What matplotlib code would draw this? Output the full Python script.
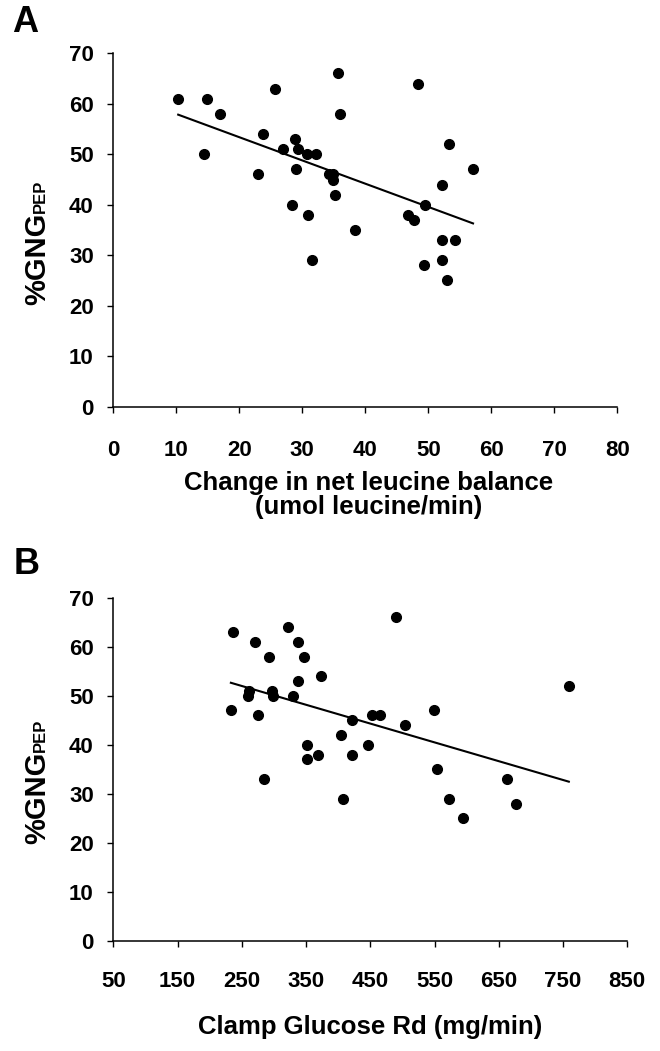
import numpy as np
import matplotlib
matplotlib.use('Agg')
import matplotlib.pyplot as plt

plt.rcParams['font.family'] = ['Liberation Sans', 'DejaVu Sans']
plt.rcParams['font.weight'] = 'bold'

# Panel A: change in net leucine balance vs %GNG(PEP)
leucine = [10.3, 14.8, 17.0, 14.4, 25.6, 23.8, 22.9, 28.8, 27.0, 29.3, 30.8, 32.1,
           29.0, 34.3, 34.9, 34.8, 35.2, 28.3, 30.9, 38.3, 31.6, 35.7, 36.0,
           48.3, 53.3, 57.1, 52.2, 49.4, 46.7, 47.7, 52.1, 54.2, 49.3, 52.2, 53.0]
gng_a = [61, 61, 58, 50, 63, 54, 46, 53, 51, 51, 50, 50,
         47, 46, 46, 45, 42, 40, 38, 35, 29, 66, 58,
         64, 52, 47, 44, 40, 38, 37, 33, 33, 28, 29, 25]

# Panel B: clamp glucose Rd vs %GNG(PEP)
glucose_rd = [237, 270, 292, 322, 338, 347, 373, 338, 261, 259, 297, 299, 329,
              233, 275, 284, 351, 352, 369, 405, 422, 422, 408, 447, 452, 465,
              490, 504, 549, 554, 572, 595, 662, 677, 759]
gng_b = [63, 61, 58, 64, 61, 58, 54, 53, 51, 50, 51, 50, 50,
         47, 46, 33, 40, 37, 38, 42, 45, 38, 29, 40, 46, 46,
         66, 44, 47, 35, 29, 25, 33, 28, 52]

xticks_a = np.arange(0, 81, 10)
xticks_b = np.arange(50, 851, 100)
yticks = np.arange(0, 71, 10)

W, H = 660, 1051
fig = plt.figure(figsize=(W / 100, H / 100), dpi=100)


def px_box(left, top, right, bottom):
    return [left / W, 1 - bottom / H, (right - left) / W, (bottom - top) / H]


def style_axes(ax, xticks, xlim, xpad):
    for side in ('top', 'right'):
        ax.spines[side].set_visible(False)
    for side in ('left', 'bottom'):
        ax.spines[side].set_linewidth(1.1)
    ax.set_xlim(*xlim)
    ax.set_ylim(0, 70)
    ax.set_xticks(xticks)
    ax.set_yticks(yticks)
    ax.tick_params(axis='both', direction='out', length=4, width=1, labelsize=16)
    ax.tick_params(axis='x', pad=xpad)
    ax.tick_params(axis='y', pad=10)
    for lab in ax.get_xticklabels() + ax.get_yticklabels():
        lab.set_fontweight('bold')


def scatter_fit(ax, x, y):
    x = np.asarray(x, float)
    y = np.asarray(y, float)
    ax.plot(x, y, 'o', color='black', markersize=7, clip_on=False, zorder=3)
    slope, icpt = np.polyfit(x, y, 1)
    xs = np.array([x.min(), x.max()])
    ax.plot(xs, slope * xs + icpt, color='black', linewidth=1.5, zorder=2)


def y_label(ax, renderer):
    bb = ax.get_position()
    yc = (bb.y0 + bb.y1) / 2 - 12 / H
    x_base = 45 / W
    t1 = fig.text(x_base, 0, '%GNG', rotation=90, rotation_mode='anchor',
                  ha='left', va='baseline', fontsize=21, fontweight='bold')
    t2 = fig.text(x_base, 0, 'PEP', rotation=90, rotation_mode='anchor',
                  ha='left', va='baseline', fontsize=12, fontweight='bold')
    h1 = t1.get_window_extent(renderer).height / H
    h2 = t2.get_window_extent(renderer).height / H
    y0 = yc - (h1 + h2) / 2
    t1.set_y(y0)
    t2.set_y(y0 + h1)


ax_a = fig.add_axes(px_box(113.3, 53.3, 617.3, 406.7))
scatter_fit(ax_a, leucine, gng_a)
style_axes(ax_a, xticks_a, (0, 80), 20)
fig.text(177 / W + (561 - 177) / 2 / W, 1 - 495 / H,
         'Change in net leucine balance\n(umol leucine/min)',
         ha='center', va='center', fontsize=18.5, fontweight='bold', linespacing=1.0)

ax_b = fig.add_axes(px_box(113.3, 597.7, 627.3, 940.7))
scatter_fit(ax_b, glucose_rd, gng_b)
style_axes(ax_b, xticks_b, (50, 850), 18)
fig.text(370 / W, 1 - 1027 / H, 'Clamp Glucose Rd (mg/min)',
         ha='center', va='center', fontsize=18.5, fontweight='bold')

fig.text(25 / W, 1 - 23 / H, 'A', ha='center', va='center', fontsize=26, fontweight='bold')
fig.text(27 / W, 1 - 564 / H, 'B', ha='center', va='center', fontsize=26, fontweight='bold')

renderer = fig.canvas.get_renderer()
y_label(ax_a, renderer)
y_label(ax_b, renderer)

fig.savefig('out.png', dpi=100)
